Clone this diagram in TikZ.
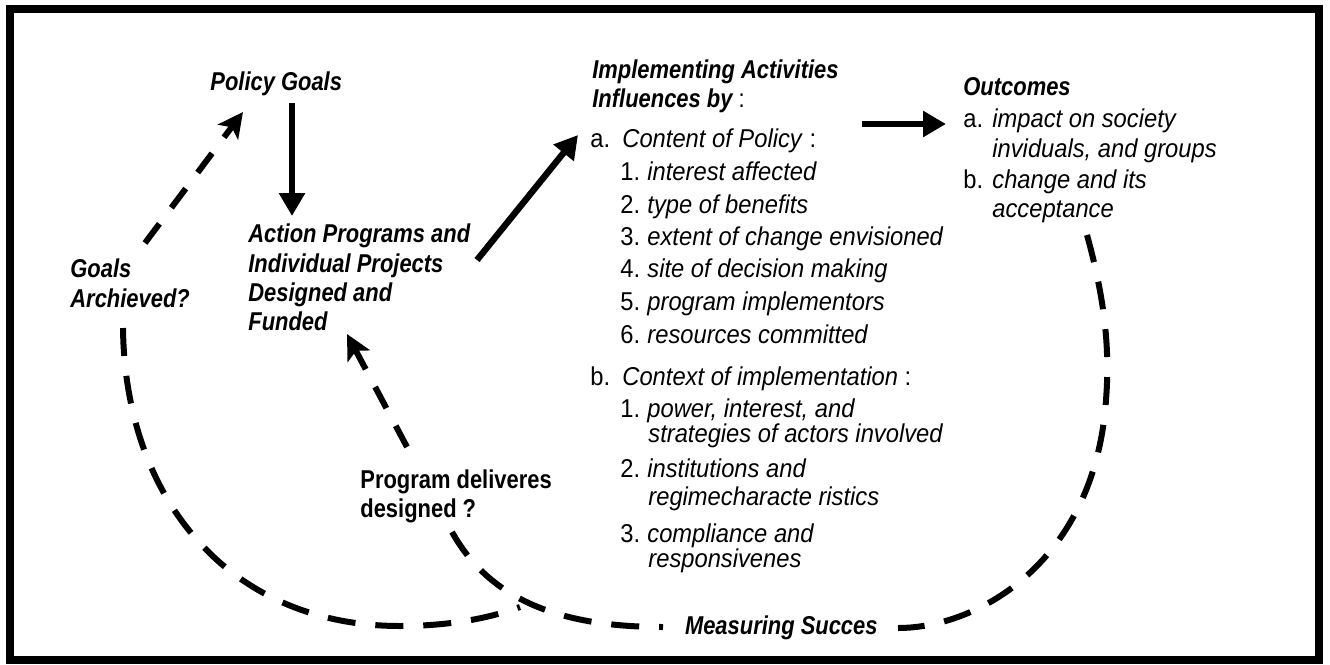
\documentclass[tikz,border=0pt]{standalone}
\usepackage{fontspec}
\usetikzlibrary{arrows.meta}
\newfontfamily\hdfont[FakeStretch=0.85]{Liberation Sans}
\newfontfamily\bdfont[FakeStretch=0.92]{Liberation Sans}
\begin{document}
\begin{tikzpicture}[x=0.5pt,y=-0.5pt,
  hd/.style={font=\hdfont\bfseries\itshape\fontsize{12.9}{15}\selectfont, inner sep=0pt, anchor=base west},
  pdl/.style={font=\hdfont\bfseries\fontsize{12.9}{15}\selectfont, inner sep=0pt, anchor=base west},
  bd/.style={font=\bdfont\fontsize{12.9}{15}\selectfont, inner sep=0pt, anchor=base west},
  solidarrow/.style={line width=3.2pt, -{Triangle[width=12.5pt,length=11.5pt]}},
  dasharrow/.style={line width=3pt, dash pattern=on 12pt off 10pt, -{Stealth[width=12.5pt,length=12.5pt,inset=3pt]}},
  dashline/.style={line width=3pt, dash pattern=on 14pt off 10pt}]
\useasboundingbox (0,0) rectangle (1330,665);
\draw[line width=4pt] (10,9) rectangle (1319,660);

% headings
\node[hd] (pg) at (210,90) {Policy Goals};
\node[hd] (ap1) at (248,242) {Action Programs and};
\node[hd] (ap2) at (248,272) {Individual Projects};
\node[hd] (ap3) at (248,301) {Designed and};
\node[hd] (ap4) at (248,330) {Funded};
\node[hd] (ga1) at (70,277) {Goals};
\node[hd] (ga2) at (70,307) {Archieved?};
\node[pdl] (pd1) at (360,488) {Program deliveres};
\node[pdl] (pd2) at (360,517) {designed ?};
\node[hd] (ia1) at (592,78) {Implementing Activities};
\node[hd] (ia2) at (592,107) {Influences by {\upshape\mdseries :}};

% content of policy
\node[bd] (ca) at (590,147) {\makebox[16pt][l]{a.}\textit{Content of Policy} :};
\node[bd] (c1) at (620,180) {\makebox[13.5pt][l]{1.}\textit{interest affected}};
\node[bd] (c2) at (620,213) {\makebox[13.5pt][l]{2.}\textit{type of benefits}};
\node[bd] (c3) at (620,245) {\makebox[13.5pt][l]{3.}\textit{extent of change envisioned}};
\node[bd] (c4) at (620,277) {\makebox[13.5pt][l]{4.}\textit{site of decision making}};
\node[bd] (c5) at (620,310) {\makebox[13.5pt][l]{5.}\textit{program implementors}};
\node[bd] (c6) at (620,343) {\makebox[13.5pt][l]{6.}\textit{resources committed}};

% context of implementation
\node[bd] (cb) at (590,385) {\makebox[16pt][l]{b.}\textit{Context of implementation} :};
\node[bd] (d1) at (620,417) {\makebox[13.5pt][l]{1.}\textit{power, interest, and}};
\node[bd] (d1b) at (648,442) {\textit{strategies of actors involved}};
\node[bd] (d2) at (620,477) {\makebox[13.5pt][l]{2.}\textit{institutions and}};
\node[bd] (d2b) at (648,505) {\textit{regimecharacte ristics}};
\node[bd] (d3) at (620,542) {\makebox[13.5pt][l]{3.}\textit{compliance and}};
\node[bd] (d3b) at (648,567) {\textit{responsivenes}};

% outcomes
\node[hd] (oc) at (963,95) {Outcomes};
\node[bd] (oa) at (963,127) {\makebox[14.5pt][l]{a.}\textit{impact on society}};
\node[bd] (oa2) at (992,157) {\textit{inviduals, and groups}};
\node[bd] (ob) at (963,188) {\makebox[14.5pt][l]{b.}\textit{change and its}};
\node[bd] (ob2) at (992,217) {\textit{acceptance}};

\node[hd, anchor=base east] (ms) at (878,634) {Measuring Succes};

% connector end points
\coordinate (a1s) at (292,103);
\coordinate (a1e) at (292,216);
\coordinate (a2s) at (477,260);
\coordinate (a2e) at (578,135);
\coordinate (a3s) at (862,124);
\coordinate (a3e) at (946,124);
\coordinate (g1s) at (145,243);
\coordinate (g1e) at (243,112);
\coordinate (p1s) at (407,447);
\coordinate (p1e) at (347,334);
\coordinate (r0) at (1087,235);
\coordinate (r1) at (1106,400);
\coordinate (r2) at (898,628);
\coordinate (l0) at (663,627);
\coordinate (l1) at (452,532);
\coordinate (b0) at (520,607);
\coordinate (b1) at (400,626);
\coordinate (b2) at (123,328);

\draw[solidarrow] (a1s) -- (a1e);
\draw[solidarrow] (a2s) -- (a2e);
\draw[solidarrow] (a3s) -- (a3e);
\draw[dasharrow] (g1s) -- (g1e);
\draw[dasharrow] (p1s) -- (p1e);
\draw[dashline] (r0) .. controls (1105,300) and (1110,350) .. (r1) .. controls (1095,560) and (980,628) .. (r2);
\draw[dashline] (l1) .. controls (490,600) and (560,627) .. (l0);
\draw[dashline] (b2) .. controls (125,500) and (230,626) .. (b1) .. controls (450,626) and (490,618) .. (b0);
\end{tikzpicture}
\end{document}
